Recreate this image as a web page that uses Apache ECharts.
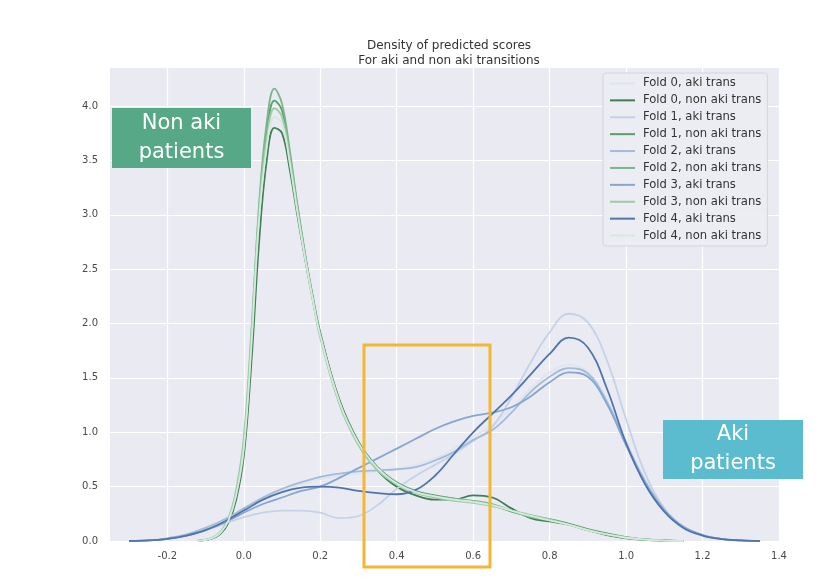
<!DOCTYPE html>
<html>
<head>
<meta charset="utf-8">
<script src="https://cdn.jsdelivr.net/npm/echarts@6/dist/echarts.min.js"></script>
<style>
html,body{margin:0;padding:0;background:#ffffff;}
#chart{width:834px;height:586px;}
</style>
</head>
<body>
<div id="chart"></div>
<script>
// ---- data ----
const titleText = 'Density of predicted scores\nFor aki and non aki transitions';
const xTicks = [-0.2, 0.0, 0.2, 0.4, 0.6, 0.8, 1.0, 1.2, 1.4];
const yTicks = [0.0, 0.5, 1.0, 1.5, 2.0, 2.5, 3.0, 3.5, 4.0];

const xBlue = [-0.3, -0.25, -0.2, -0.15, -0.1, -0.05, 0, 0.05, 0.1, 0.15, 0.2, 0.25, 0.3, 0.35, 0.4, 0.45, 0.5, 0.55, 0.6, 0.65, 0.7, 0.75, 0.8, 0.85, 0.9, 0.95, 1.0, 1.05, 1.1, 1.15, 1.2, 1.25, 1.3, 1.35];
const xGreen = [-0.12, -0.1, -0.08, -0.06, -0.04, -0.02, 0, 0.02, 0.04, 0.06, 0.08, 0.1, 0.12, 0.14, 0.16, 0.18, 0.2, 0.25, 0.3, 0.35, 0.4, 0.45, 0.5, 0.55, 0.6, 0.65, 0.7, 0.75, 0.8, 0.85, 0.9, 0.95, 1.0, 1.05, 1.1, 1.15];

const fold0Aki = [0, 0.006, 0.024, 0.06, 0.12, 0.2, 0.29, 0.38, 0.46, 0.52, 0.57, 0.6, 0.62, 0.64, 0.66, 0.7, 0.76, 0.85, 0.96, 1.07, 1.22, 1.4, 1.55, 1.62, 1.55, 1.3, 0.92, 0.56, 0.3, 0.14, 0.06, 0.02, 0.006, 0];
const fold1Aki = [0, 0.005, 0.02, 0.05, 0.1, 0.16, 0.22, 0.26, 0.28, 0.28, 0.26, 0.21, 0.23, 0.33, 0.48, 0.6, 0.7, 0.8, 0.92, 1.05, 1.32, 1.64, 1.92, 2.09, 2.01, 1.66, 1.12, 0.62, 0.3, 0.13, 0.05, 0.017, 0.005, 0];
const fold2Aki = [0, 0.006, 0.025, 0.06, 0.12, 0.2, 0.3, 0.4, 0.48, 0.54, 0.59, 0.62, 0.64, 0.65, 0.66, 0.68, 0.74, 0.82, 0.93, 1.02, 1.18, 1.37, 1.51, 1.59, 1.54, 1.28, 0.9, 0.55, 0.29, 0.13, 0.055, 0.02, 0.006, 0];
const fold3Aki = [0, 0.005, 0.02, 0.05, 0.1, 0.17, 0.26, 0.34, 0.4, 0.46, 0.5, 0.58, 0.67, 0.76, 0.85, 0.94, 1.03, 1.1, 1.15, 1.18, 1.23, 1.33, 1.46, 1.55, 1.51, 1.26, 0.88, 0.53, 0.28, 0.13, 0.055, 0.02, 0.006, 0];
const fold4Aki = [0, 0.005, 0.02, 0.05, 0.1, 0.18, 0.28, 0.38, 0.45, 0.49, 0.5, 0.49, 0.46, 0.44, 0.43, 0.47, 0.6, 0.8, 1.0, 1.17, 1.34, 1.53, 1.72, 1.87, 1.78, 1.4, 0.9, 0.52, 0.27, 0.12, 0.05, 0.018, 0.005, 0];

const fold0NonAki = [0, 0.01, 0.025, 0.07, 0.17, 0.38, 0.78, 1.65, 2.75, 3.5, 3.8, 3.75, 3.42, 3.0, 2.6, 2.23, 1.9, 1.3, 0.91, 0.65, 0.5, 0.42, 0.38, 0.38, 0.42, 0.4, 0.3, 0.21, 0.18, 0.15, 0.1, 0.055, 0.025, 0.01, 0.003, 0];
const fold1NonAki = [0, 0.01, 0.03, 0.08, 0.19, 0.43, 0.86, 1.82, 3.0, 3.75, 4.05, 3.96, 3.56, 3.08, 2.64, 2.26, 1.92, 1.29, 0.91, 0.68, 0.54, 0.46, 0.42, 0.39, 0.36, 0.33, 0.27, 0.23, 0.2, 0.16, 0.11, 0.07, 0.035, 0.015, 0.005, 0];
const fold2NonAki = [0, 0.01, 0.03, 0.08, 0.2, 0.45, 0.9, 1.9, 3.1, 3.85, 4.16, 4.02, 3.6, 3.1, 2.65, 2.24, 1.89, 1.27, 0.89, 0.66, 0.52, 0.45, 0.41, 0.39, 0.37, 0.34, 0.28, 0.22, 0.19, 0.15, 0.1, 0.06, 0.03, 0.015, 0.005, 0];
const fold3NonAki = [0, 0.012, 0.035, 0.09, 0.21, 0.47, 0.95, 1.95, 3.05, 3.7, 3.98, 3.9, 3.52, 3.05, 2.61, 2.22, 1.87, 1.26, 0.88, 0.65, 0.52, 0.44, 0.4, 0.37, 0.35, 0.32, 0.28, 0.24, 0.2, 0.15, 0.1, 0.06, 0.03, 0.012, 0.004, 0];
const fold4NonAki = [0, 0.01, 0.03, 0.08, 0.19, 0.42, 0.85, 1.8, 2.95, 3.62, 3.9, 3.84, 3.48, 3.03, 2.61, 2.23, 1.89, 1.28, 0.9, 0.67, 0.53, 0.45, 0.41, 0.38, 0.36, 0.33, 0.28, 0.23, 0.19, 0.15, 0.1, 0.06, 0.03, 0.012, 0.004, 0];

const seriesNames = ['Fold 0, aki trans', 'Fold 0, non aki trans', 'Fold 1, aki trans', 'Fold 1, non aki trans', 'Fold 2, aki trans', 'Fold 2, non aki trans', 'Fold 3, aki trans', 'Fold 3, non aki trans', 'Fold 4, aki trans', 'Fold 4, non aki trans'];
const seriesValues = [fold0Aki, fold0NonAki, fold1Aki, fold1NonAki, fold2Aki, fold2NonAki, fold3Aki, fold3NonAki, fold4Aki, fold4NonAki];
const seriesColors = ['#dfe5ef', '#3e7f55', '#c4d2e8', '#5a9e6c', '#a2bbdb', '#78b689', '#87a6cf', '#9dcbaa', '#5075ad', '#d7e9dc'];

// ---- chart ----
const chart = echarts.init(document.getElementById('chart'), null, {renderer: 'canvas'});
const FONT = 'DejaVu Sans';

const series = seriesNames.map((name, i) => {
  const xs = (i % 2 === 0) ? xBlue : xGreen;
  const ys = seriesValues[i];
  return {
    name: name,
    type: 'line',
    data: xs.map((x, k) => [x, ys[k]]),
    symbol: 'none',
    smooth: 0.4,
    lineStyle: {color: seriesColors[i], width: 1.8},
    itemStyle: {color: seriesColors[i]},
    z: 2 + i
  };
});

const option = {
  animation: false,
  backgroundColor: '#ffffff',
  title: {
    text: titleText,
    left: 444,
    top: 33,
    textAlign: 'center',
    textStyle: {fontFamily: FONT, fontSize: 12, fontWeight: 'normal', color: '#333333', lineHeight: 15}
  },
  grid: {left: 110, top: 68, width: 669, height: 473, show: true, backgroundColor: '#eaeaf2', borderWidth: 0},
  xAxis: {
    type: 'value',
    min: -0.35,
    max: 1.4,
    axisLine: {show: false},
    axisTick: {show: false, customValues: xTicks},
    axisLabel: {customValues: xTicks, formatter: v => v.toFixed(1), fontFamily: FONT, fontSize: 10, color: '#4a4a4a', margin: 10},
    splitLine: {show: true, lineStyle: {color: '#ffffff', width: 1.2}}
  },
  yAxis: {
    type: 'value',
    min: 0,
    max: 4.35,
    axisLine: {show: false},
    axisTick: {show: false, customValues: yTicks},
    axisLabel: {customValues: yTicks, formatter: v => v.toFixed(1), fontFamily: FONT, fontSize: 10, color: '#4a4a4a', margin: 12},
    splitLine: {show: true, lineStyle: {color: '#ffffff', width: 1.2}}
  },
  legend: {
    orient: 'vertical',
    left: 603,
    top: 73,
    padding: [2, 6, 2, 7],
    icon: 'rect',
    itemWidth: 25,
    itemHeight: 2,
    itemGap: 0,
    backgroundColor: 'rgba(236,236,243,0.9)',
    borderColor: '#d4d4dc',
    borderWidth: 1,
    borderRadius: 3,
    textStyle: {fontFamily: FONT, fontSize: 11.6, color: '#333333', lineHeight: 16.9, padding: [0, 0, 0, 3]},
    data: seriesNames
  },
  series: series,
  graphic: [
    {type: 'rect', z: 100, shape: {x: 112, y: 108, width: 139, height: 60}, style: {fill: '#56a887'}},
    {type: 'text', z: 101, x: 181.5, y: 138, style: {text: 'Non aki\npatients', fill: '#ffffff', font: '21px "DejaVu Sans"', align: 'center', verticalAlign: 'middle', lineHeight: 29}},
    {type: 'rect', z: 100, shape: {x: 663, y: 420, width: 140, height: 59}, style: {fill: '#5bbcd0'}},
    {type: 'text', z: 101, x: 733, y: 449.5, style: {text: 'Aki\npatients', fill: '#ffffff', font: '21px "DejaVu Sans"', align: 'center', verticalAlign: 'middle', lineHeight: 29}},
    {type: 'rect', z: 100, shape: {x: 364, y: 345, width: 126, height: 222}, style: {fill: 'none', stroke: '#f2b733', lineWidth: 3}}
  ]
};
chart.setOption(option);
</script>
</body>
</html>
